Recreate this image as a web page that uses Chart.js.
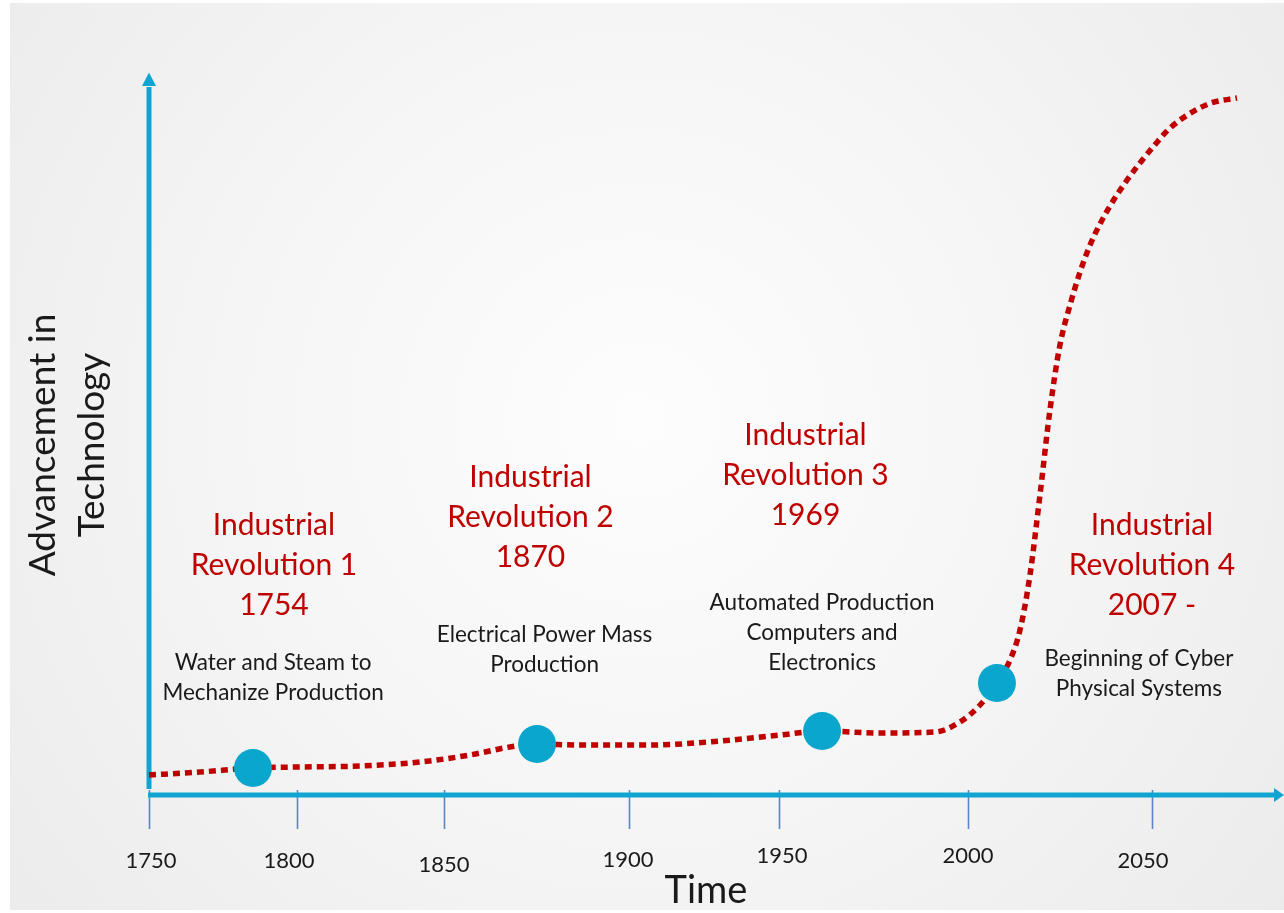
<!DOCTYPE html>
<html>
<head>
<meta charset="utf-8">
<script src="https://cdn.jsdelivr.net/npm/chart.js@4/dist/chart.umd.min.js"></script>
<style>
  html, body { margin: 0; padding: 0; background: #ffffff; }
  #wrap { width: 1284px; height: 913px; }
</style>
</head>
<body>
<div id="wrap"><canvas id="c" width="1284" height="913"></canvas></div>
<script>
// ---------------- DATA ----------------
// Position along the (schematic) time axis, in % of the axis length
const tickLabels    = ['1750', '1800', '1850', '1900', '1950', '2000', '2050'];
const tickPositions = [0, 13.04, 25.99, 42.29, 55.51, 72.16, 88.37];

// Advancement-in-technology curve (x: timeline %, y: advancement 0-100)
const curveX = [0, 4.49, 9.16, 13.30, 18.59, 23.88, 28.28, 31.81, 34.19, 37.97, 44.14, 50.31,
                55.59, 59.30, 64.41, 69.25, 71.45, 73.22, 74.71, 75.86, 76.74, 77.62, 78.50,
                79.38, 80.26, 81.15, 82.03, 82.91, 83.79, 84.67, 85.99, 87.31, 88.46, 89.87,
                91.63, 93.57, 95.86];
const curveY = [2.78, 3.19, 3.75, 3.89, 4.03, 4.58, 5.56, 6.67, 7.08, 6.94, 6.94, 7.50,
                8.33, 8.89, 8.61, 8.75, 10.14, 12.50, 15.56, 18.75, 22.92, 30.56, 41.67,
                53.47, 62.50, 68.06, 72.64, 76.39, 79.31, 81.81, 85.00, 87.78, 90.00, 92.50,
                94.58, 96.11, 96.81];

// Revolution milestones on the curve
const milestoneX = [9.16, 34.19, 59.30, 74.71];
const milestoneY = [3.75, 7.08, 8.89, 15.56];

const revolutionTitles = [
  ['Industrial', 'Revolution 1', '1754'],
  ['Industrial', 'Revolution 2', '1870'],
  ['Industrial', 'Revolution 3', '1969'],
  ['Industrial', 'Revolution 4', '2007 -']
];
const revolutionNotes = [
  ['Water and Steam to', 'Mechanize Production'],
  ['Electrical Power Mass', 'Production'],
  ['Automated Production', 'Computers and', 'Electronics'],
  ['Beginning of Cyber', 'Physical Systems']
];

const xTitle = 'Time';
const yTitle = ['Advancement in', 'Technology'];

// ---------------- STYLE / LAYOUT ----------------
const AXIS_COLOR = '#10a5d1';
const TICK_COLOR = '#5b86c5';
const RED = '#c00000';
const TEXT = '#1a1a1a';
const FONT = 'Lato, "Open Sans", sans-serif';

// anchors for text blocks, in data units (timeline %, advancement)
const titleAnchors = [[11.01, 37.43], [33.61, 44.17], [57.84, 49.93], [88.37, 37.50]];
const noteAnchors  = [[10.93, 18.33], [34.85, 22.22], [59.30, 26.74], [87.22, 18.89]];
const tickLabelDx = [2, -8, 0, -1, 3, 0, -9];
const tickLabelDy = [1, 1, 5, 0, -4, -4, 1];

const bgPlugin = {
  id: 'bg',
  beforeDraw(chart) {
    const ctx = chart.ctx;
    ctx.save();
    ctx.fillStyle = '#ffffff';
    ctx.fillRect(0, 0, chart.width, chart.height);
    const g = ctx.createRadialGradient(640, 420, 0, 640, 420, 820);
    g.addColorStop(0, '#fdfdfd');
    g.addColorStop(0.45, '#f6f6f6');
    g.addColorStop(1, '#ebebeb');
    ctx.fillStyle = g;
    ctx.fillRect(10, 3, chart.width - 10, chart.height - 6);
    ctx.restore();
  }
};

const axesPlugin = {
  id: 'axes',
  beforeDatasetsDraw(chart) {
    const ctx = chart.ctx;
    const xs = chart.scales.x, ys = chart.scales.y;
    const x0 = xs.getPixelForValue(0);
    const y0 = ys.getPixelForValue(0);
    ctx.save();
    // tick marks
    ctx.strokeStyle = TICK_COLOR;
    ctx.lineWidth = 1.6;
    tickPositions.forEach((t) => {
      const px = Math.round(xs.getPixelForValue(t)) + 0.5;
      ctx.beginPath();
      ctx.moveTo(px, y0 - 5);
      ctx.lineTo(px, y0 + 34);
      ctx.stroke();
    });
    // x axis
    ctx.strokeStyle = AXIS_COLOR;
    ctx.fillStyle = AXIS_COLOR;
    ctx.lineWidth = 5;
    ctx.beginPath();
    ctx.moveTo(x0 - 1, y0);
    ctx.lineTo(xs.right - 8, y0);
    ctx.stroke();
    ctx.beginPath();
    ctx.moveTo(xs.right, y0);
    ctx.lineTo(xs.right - 10, y0 - 7);
    ctx.lineTo(xs.right - 10, y0 + 7);
    ctx.closePath();
    ctx.fill();
    // y axis
    ctx.beginPath();
    ctx.moveTo(x0, y0 - 6);
    ctx.lineTo(x0, ys.top + 12);
    ctx.stroke();
    ctx.beginPath();
    ctx.moveTo(x0, ys.top - 2.5);
    ctx.lineTo(x0 - 7, ys.top + 11);
    ctx.lineTo(x0 + 7, ys.top + 11);
    ctx.closePath();
    ctx.fill();
    ctx.restore();
  },
  afterDraw(chart) {
    const ctx = chart.ctx;
    const xs = chart.scales.x, ys = chart.scales.y;
    const y0 = ys.getPixelForValue(0);
    ctx.save();
    ctx.textAlign = 'center';
    ctx.textBaseline = 'middle';
    // tick labels
    ctx.fillStyle = TEXT;
    ctx.font = '22px ' + FONT;
    tickLabels.forEach((lab, i) => {
      ctx.fillText(lab, xs.getPixelForValue(tickPositions[i]) + tickLabelDx[i], y0 + 65 + tickLabelDy[i]);
    });
    // axis titles
    ctx.font = '38px ' + FONT;
    ctx.fillText(xTitle, 706, y0 + 96);
    ctx.save();
    ctx.translate(70, 445);
    ctx.rotate(-Math.PI / 2);
    ctx.font = '37px ' + FONT;
    ctx.fillText(yTitle[0], 0, -27);
    ctx.fillText(yTitle[1], 0, 22);
    ctx.restore();
    // revolution titles
    ctx.fillStyle = RED;
    ctx.font = '30px ' + FONT;
    revolutionTitles.forEach((lines, i) => {
      const px = xs.getPixelForValue(titleAnchors[i][0]);
      const py = ys.getPixelForValue(titleAnchors[i][1]);
      lines.forEach((l, j) => ctx.fillText(l, px, py + j * 40));
    });
    // notes
    ctx.fillStyle = TEXT;
    ctx.font = '22.5px ' + FONT;
    revolutionNotes.forEach((lines, i) => {
      const px = xs.getPixelForValue(noteAnchors[i][0]);
      const py = ys.getPixelForValue(noteAnchors[i][1]);
      lines.forEach((l, j) => ctx.fillText(l, px, py + j * 30));
    });
    ctx.restore();
  }
};

const curvePts = curveX.map((x, i) => ({ x: x, y: curveY[i] }));
const milestonePts = milestoneX.map((x, i) => ({ x: x, y: milestoneY[i] }));

function build() {
  new Chart(document.getElementById('c'), {
    type: 'scatter',
    data: {
      datasets: [
        {
          type: 'scatter',
          data: milestonePts,
          pointRadius: 19,
          pointHoverRadius: 19,
          backgroundColor: '#0aa6cd',
          borderWidth: 0,
          order: 0,
          clip: false
        },
        {
          type: 'line',
          data: curvePts,
          borderColor: RED,
          borderWidth: 5.5,
          borderDash: [7, 5],
          borderCapStyle: 'butt',
          cubicInterpolationMode: 'monotone',
          pointRadius: 0,
          fill: false,
          order: 1,
          clip: false
        }
      ]
    },
    options: {
      responsive: false,
      animation: false,
      devicePixelRatio: 1,
      layout: { autoPadding: false, padding: { left: 149, right: 0, top: 75, bottom: 118 } },
      plugins: { legend: { display: false }, tooltip: { enabled: false } },
      scales: {
        x: { type: 'linear', min: 0, max: 100, display: false },
        y: { type: 'linear', min: 0, max: 100, display: false }
      }
    },
    plugins: [bgPlugin, axesPlugin]
  });
}
if (document.fonts && document.fonts.load) {
  Promise.all([document.fonts.load('30px Lato'), document.fonts.load('22px Lato')]).then(build, build);
} else { build(); }
</script>
</body>
</html>
